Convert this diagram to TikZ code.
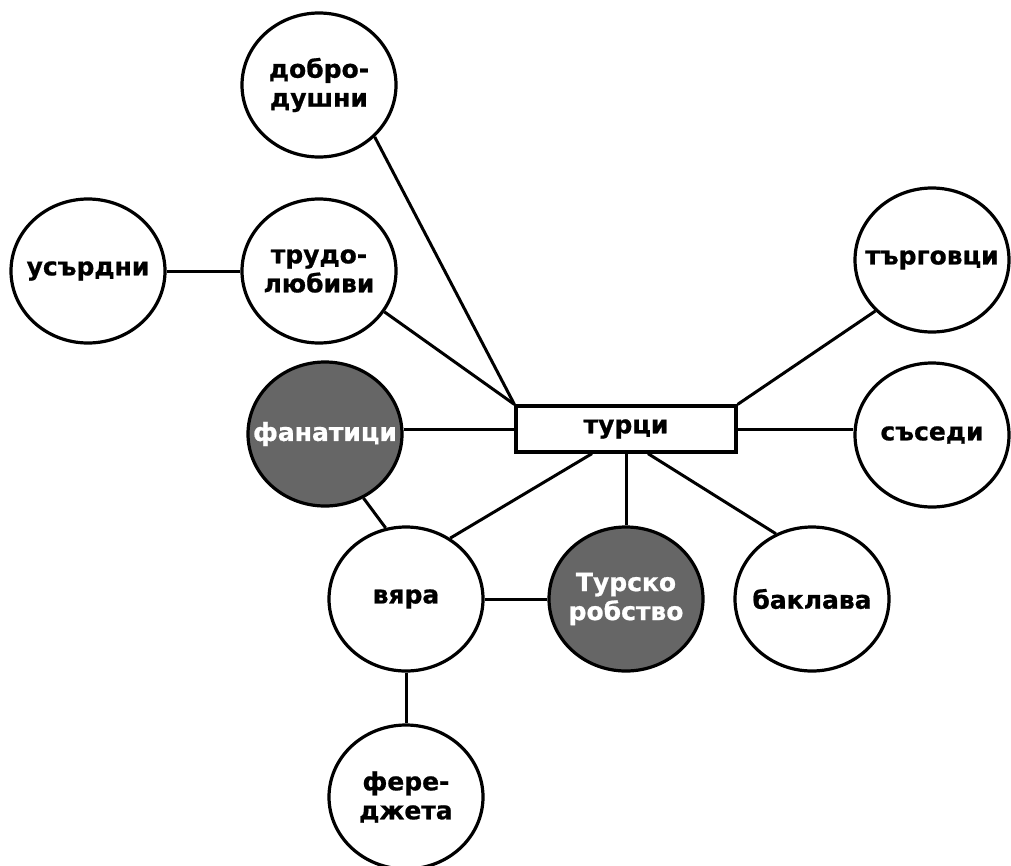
\documentclass[tikz,border=0pt]{standalone}
\usepackage{fontspec}
\setmainfont{DejaVu Sans}[BoldFeatures={FakeBold=0.8}]
\usepackage{tikz}
\usetikzlibrary{positioning,shapes.geometric}
\definecolor{bubblegray}{HTML}{666666}

\begin{document}
\begin{tikzpicture}[on grid,
      every node/.style={font=\fontsize{25}{29}\selectfont\bfseries, align=center},
      bubble/.style={ellipse, draw, line width=3.2pt, fill=white, minimum width=154pt, minimum height=144pt, inner xsep=-40pt, inner ysep=-20pt},
      darkbubble/.style={bubble, fill=bubblegray, text=white},
      link/.style={line width=3pt}]
   \useasboundingbox (0,0) rectangle (1011pt,-865pt);
   \node[draw, line width=3.2pt, minimum width=220pt, minimum height=46pt, inner sep=0pt] (turci) at (626pt,-429pt) {турци};
   \node[bubble, above left=344pt and 307pt of turci] (dobro) {добро-\\душни};
   \node[bubble, below=186pt of dobro] (trudo) {трудо-\\любиви};
   \node[bubble, left=231pt of trudo] (usardni) {усърдни};
   \node[darkbubble, below left=5pt and 301pt of turci] (fanatici) {фанатици};
   \node[bubble, below left=170pt and 220pt of turci] (vyara) {вяра};
   \node[darkbubble, right=220pt of vyara] (robstvo) {Турско\\робство};
   \node[bubble, right=186pt of robstvo] (baklava) {баклава};
   \node[bubble, below=198pt of vyara] (feredzheta) {фере-\\джета};
   \node[bubble, above right=169pt and 306pt of turci] (targovci) {търговци};
   \node[bubble, below=175pt of targovci] (sasedi) {съседи};
   % connections
   \draw[link] (usardni) -- (trudo);
   \draw[link] (dobro.-43) -- (turci.north west);
   \draw[link] (trudo.-32) -- (turci.north west);
   \draw[link] (turci.west) -- (turci.west -| fanatici.east);
   \draw[link] (fanatici.-59) -- (vyara.106);
   \draw[link] (vyara.54) -- ([xshift=-34pt]turci.south);
   \draw[link] (vyara) -- (robstvo);
   \draw[link] (turci.south) -- (robstvo.north);
   \draw[link] ([xshift=22pt]turci.south) -- (baklava.119);
   \draw[link] (turci.north east) -- (targovci.222);
   \draw[link] (turci.east) -- (turci.east -| sasedi.west);
   \draw[link] (vyara) -- (feredzheta);
\end{tikzpicture}
\end{document}
